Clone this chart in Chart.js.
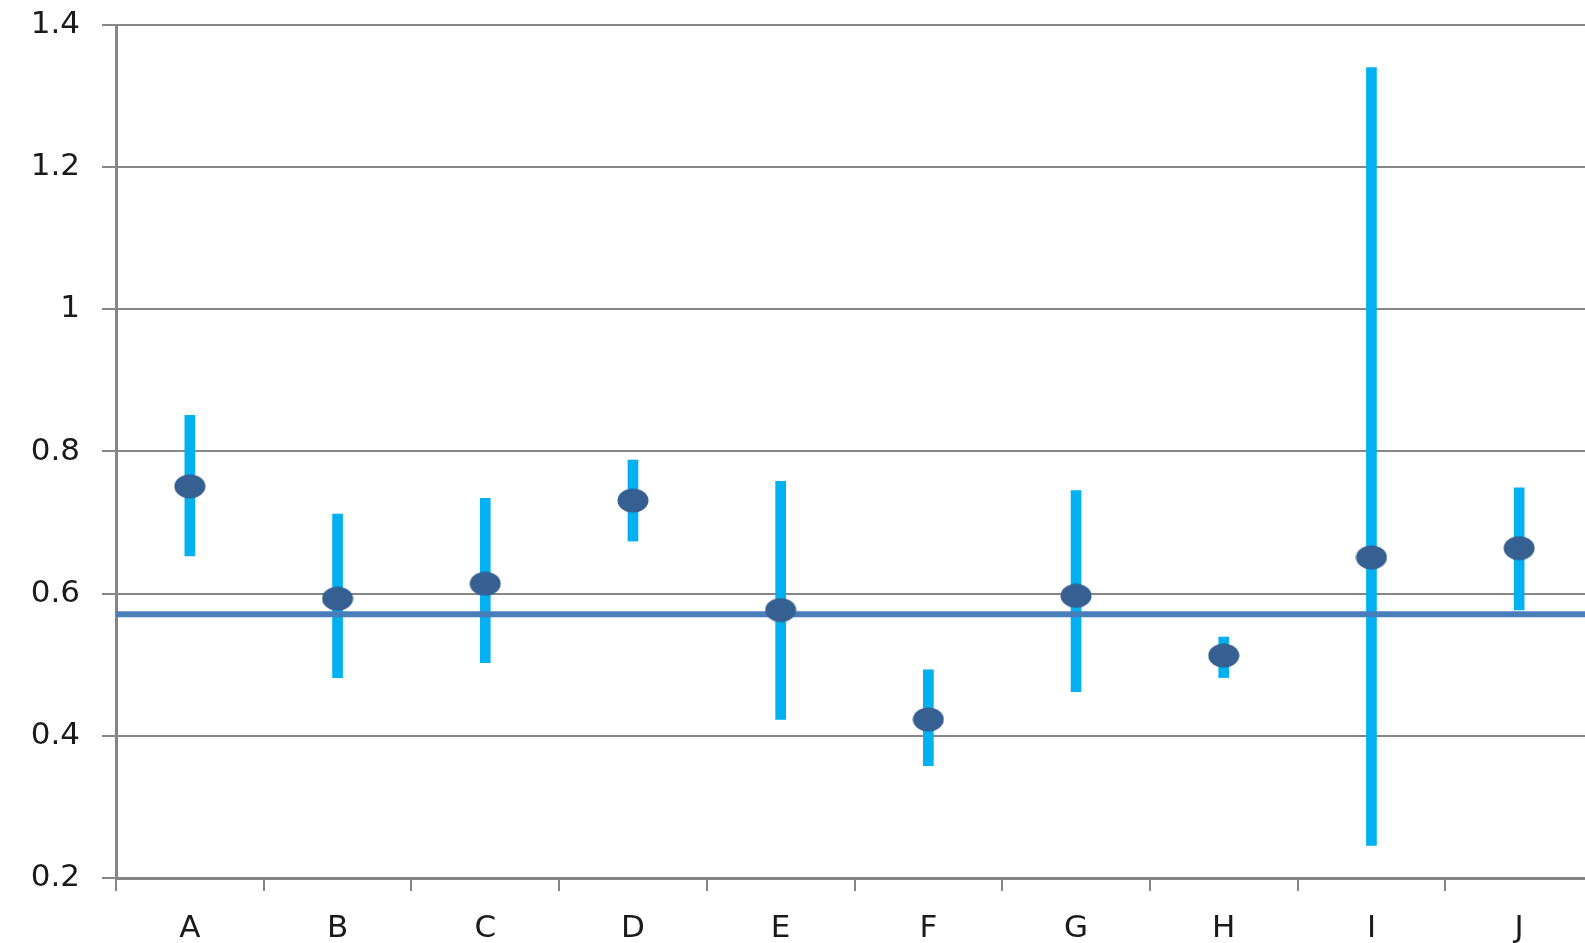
<!DOCTYPE html>
<html>
<head>
<meta charset="utf-8">
<script src="https://cdn.jsdelivr.net/npm/chart.js@4"></script>
<style>
    html, body { margin: 0; padding: 0; background: #fff; overflow: hidden; }
    canvas { display: block; }
</style>
</head>
<body>
<canvas id="errChart" width="1610" height="943"></canvas>
<script>
// chart data
const categories = ['A', 'B', 'C', 'D', 'E', 'F', 'G', 'H', 'I', 'J'];
const means = [0.751, 0.593, 0.614, 0.731, 0.577, 0.423, 0.597, 0.513, 0.651, 0.664];
const upper = [0.851, 0.712, 0.734, 0.788, 0.758, 0.493, 0.745, 0.539, 1.340, 0.749];
const lower = [0.653, 0.482, 0.503, 0.674, 0.423, 0.358, 0.462, 0.482, 0.246, 0.577];
const overallMean = 0.571;
const yTickLabels = ['0.2', '0.4', '0.6', '0.8', '1', '1.2', '1.4'];

document.addEventListener('DOMContentLoaded', () => {
    const ctx = document.getElementById('errChart').getContext('2d');

    // elliptical marker like the original
    const marker = document.createElement('canvas');
    marker.width = 32;
    marker.height = 25;
    const mctx = marker.getContext('2d');
    mctx.fillStyle = '#376092';
    mctx.beginPath();
    mctx.ellipse(16, 12.5, 15.5, 12, 0, 0, Math.PI * 2);
    mctx.fill();

    const gridColor = '#868686';
    const font = { family: 'DejaVu Sans', size: 31 };

    new Chart(ctx, {
        type: 'bar',
        data: {
            labels: categories,
            datasets: [
                {
                    type: 'bar',
                    data: lower.map((l, i) => [l, upper[i]]),
                    backgroundColor: '#00B0F0',
                    barThickness: 10,
                    grouped: false,
                    borderWidth: 0,
                    order: 3
                },
                {
                    type: 'line',
                    data: [{ x: 0, y: overallMean }, { x: 1, y: overallMean }],
                    xAxisID: 'x2',
                    borderColor: '#4A7EBB',
                    borderWidth: 6,
                    pointRadius: 0,
                    fill: false,
                    order: 2
                },
                {
                    type: 'line',
                    data: means,
                    showLine: false,
                    pointStyle: marker,
                    pointRadius: 16,
                    order: 1
                }
            ]
        },
        options: {
            responsive: false,
            devicePixelRatio: 1,
            animation: false,
            layout: { padding: { top: 25, left: 0, right: 0, bottom: 0 } },
            plugins: {
                legend: { display: false },
                tooltip: { enabled: false }
            },
            scales: {
                x: {
                    offset: true,
                    afterFit: (s) => { s.height = 65; },
                    grid: {
                        offset: true,
                        drawOnChartArea: false,
                        color: gridColor,
                        lineWidth: 2,
                        tickLength: 13
                    },
                    border: { color: gridColor, width: 3 },
                    ticks: { font: font, color: '#1a1a1a', padding: 19 }
                },
                x2: {
                    type: 'linear',
                    min: 0,
                    max: 1,
                    offset: false,
                    display: false
                },
                y: {
                    min: 0.2,
                    max: 1.4,
                    afterFit: (s) => {
                        s.width = 116;
                        s.paddingTop = 0;
                        s.paddingBottom = 0;
                    },
                    grid: {
                        color: gridColor,
                        lineWidth: 2,
                        tickLength: 14
                    },
                    border: { color: gridColor, width: 3 },
                    ticks: {
                        stepSize: 0.2,
                        font: font,
                        color: '#1a1a1a',
                        padding: 22,
                        callback: (v, i) => yTickLabels[i]
                    }
                }
            }
        }
    });
});
</script>
</body>
</html>
